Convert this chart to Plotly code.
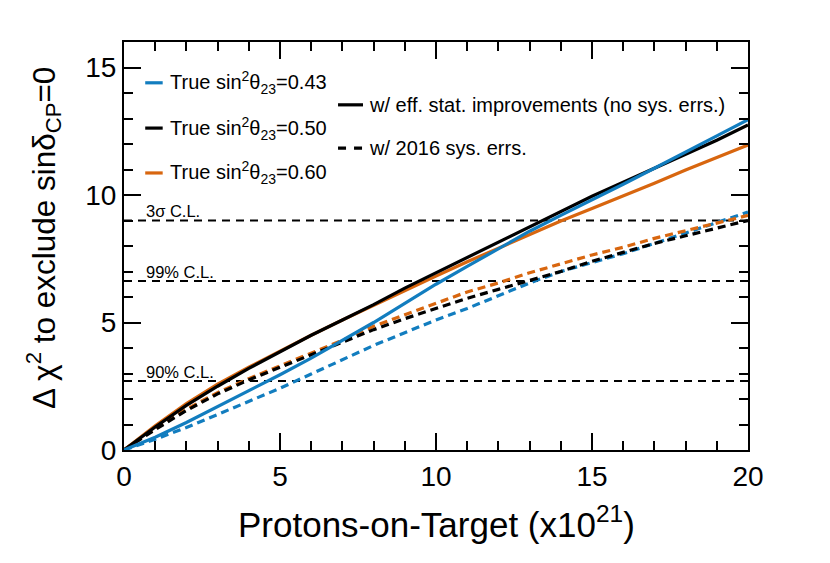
import plotly.graph_objects as go

# Protons-on-target (x10^21)
pot = [0, 1, 2, 3, 4, 5, 6, 7, 8, 9, 10, 11, 12, 13, 14, 15, 16, 17, 18, 19, 20]

# delta chi2, no systematic errors (solid)
stat_043 = [0, 0.5, 1.08, 1.7, 2.3, 2.95, 3.6, 4.3, 5.0, 5.75, 6.5, 7.2, 7.9, 8.58, 9.2, 9.8, 10.42, 11.05, 11.7, 12.32, 12.95]
stat_050 = [0, 0.9, 1.75, 2.5, 3.2, 3.85, 4.5, 5.1, 5.7, 6.35, 6.95, 7.55, 8.15, 8.75, 9.35, 9.95, 10.5, 11.05, 11.6, 12.15, 12.75]
stat_060 = [0, 0.95, 1.82, 2.58, 3.25, 3.88, 4.5, 5.1, 5.68, 6.27, 6.82, 7.38, 7.92, 8.45, 8.98, 9.47, 9.96, 10.46, 10.98, 11.48, 11.96]

# delta chi2, with 2016 systematic errors (dashed)
sys_043 = [0, 0.42, 0.88, 1.4, 1.9, 2.42, 2.98, 3.55, 4.1, 4.6, 5.1, 5.55, 6.05, 6.55, 7.0, 7.35, 7.7, 8.1, 8.5, 8.9, 9.33]
sys_050 = [0, 0.8, 1.55, 2.2, 2.75, 3.25, 3.75, 4.25, 4.72, 5.15, 5.55, 5.95, 6.3, 6.65, 7.0, 7.4, 7.75, 8.1, 8.4, 8.7, 9.0]
sys_060 = [0, 0.85, 1.6, 2.25, 2.8, 3.3, 3.8, 4.3, 4.85, 5.3, 5.75, 6.2, 6.55, 6.95, 7.3, 7.65, 7.95, 8.3, 8.6, 8.9, 9.2]

cl_levels = [9.0, 6.63, 2.71]
cl_labels = ["3σ C.L.", "99% C.L.", "90% C.L."]

labels = ["True sin<sup>2</sup>θ<sub>23</sub>=0.43",
          "True sin<sup>2</sup>θ<sub>23</sub>=0.50",
          "True sin<sup>2</sup>θ<sub>23</sub>=0.60"]
colors = ["#127dbf", "#000000", "#d8660f"]

FONT = "Liberation Sans, Arial, sans-serif"

fig = go.Figure()

# confidence level lines
for lev, lab in zip(cl_levels, cl_labels):
    fig.add_trace(go.Scatter(x=[0, 20], y=[lev, lev], mode="lines",
                             line=dict(color="black", width=2, dash="8px,6px"),
                             showlegend=False, hoverinfo="skip"))
    fig.add_annotation(x=0.65, y=lev + 0.36, text=lab, showarrow=False,
                       xanchor="left", yanchor="middle",
                       font=dict(size=16.5, color="black", family=FONT))

# curves
for ys, col in zip([sys_043, sys_060, sys_050], [colors[0], colors[2], colors[1]]):
    fig.add_trace(go.Scatter(x=pot, y=ys, mode="lines",
                             line=dict(color=col, width=3.2, dash="8px,5px"),
                             showlegend=False))
for ys, col in zip([stat_060, stat_050, stat_043], [colors[2], colors[1], colors[0]]):
    fig.add_trace(go.Scatter(x=pot, y=ys, mode="lines",
                             line=dict(color=col, width=3.2),
                             showlegend=False))

# legend (drawn by hand, ROOT style)
leg_y = [0.90, 0.789, 0.679]
for yy, lab, col in zip(leg_y, labels, colors):
    fig.add_shape(type="line", xref="paper", yref="paper",
                  x0=0.034, x1=0.062, y0=yy, y1=yy,
                  line=dict(color=col, width=3.2))
    fig.add_annotation(xref="paper", yref="paper", x=0.070, y=yy, text=lab,
                       showarrow=False, xanchor="left", yanchor="middle",
                       font=dict(size=20, color="black", family=FONT))

leg2 = [("w/ eff. stat. improvements (no sys. errs.)", "solid", 0.846),
        ("w/ 2016 sys. errs.", "8px,8px", 0.740)]
for lab, dash, yy in leg2:
    fig.add_shape(type="line", xref="paper", yref="paper",
                  x0=0.343, x1=0.383, y0=yy, y1=yy,
                  line=dict(color="black", width=3.2, dash=dash))
    fig.add_annotation(xref="paper", yref="paper", x=0.390, y=yy, text=lab,
                       showarrow=False, xanchor="left", yanchor="middle",
                       font=dict(size=20, color="black", family=FONT))

# axis titles
fig.add_annotation(xref="paper", yref="paper", x=0.5, y=-0.176,
                   text="Protons-on-Target (x10<sup>21</sup>)", showarrow=False,
                   xanchor="center", yanchor="middle",
                   font=dict(size=35, color="black", family=FONT))
fig.add_annotation(xref="paper", yref="paper", x=-0.128, y=0.52,
                   text="Δ χ<sup>2</sup> to exclude sinδ<sub>CP</sub>=0",
                   showarrow=False, textangle=-90,
                   xanchor="center", yanchor="middle",
                   font=dict(size=31.5, color="black", family=FONT))

axis_common = dict(showgrid=False, zeroline=False, showline=True,
                   linecolor="black", linewidth=2, mirror="ticks",
                   ticks="inside", ticklen=17, tickwidth=2, tickcolor="black",
                   tickfont=dict(size=28, color="black", family=FONT),
                   minor=dict(ticks="inside", ticklen=9, tickwidth=2,
                              tickcolor="black", dtick=1))

fig.update_xaxes(range=[0, 20], dtick=5, tick0=0, **axis_common)
fig.update_yaxes(range=[0, 16], dtick=5, tick0=0, **axis_common)

fig.update_layout(
    width=830, height=563,
    margin=dict(l=116, r=90, t=34, b=121),
    paper_bgcolor="white", plot_bgcolor="white",
    showlegend=False,
    font=dict(family=FONT, color="black"),
)

fig.write_html("out.html")
